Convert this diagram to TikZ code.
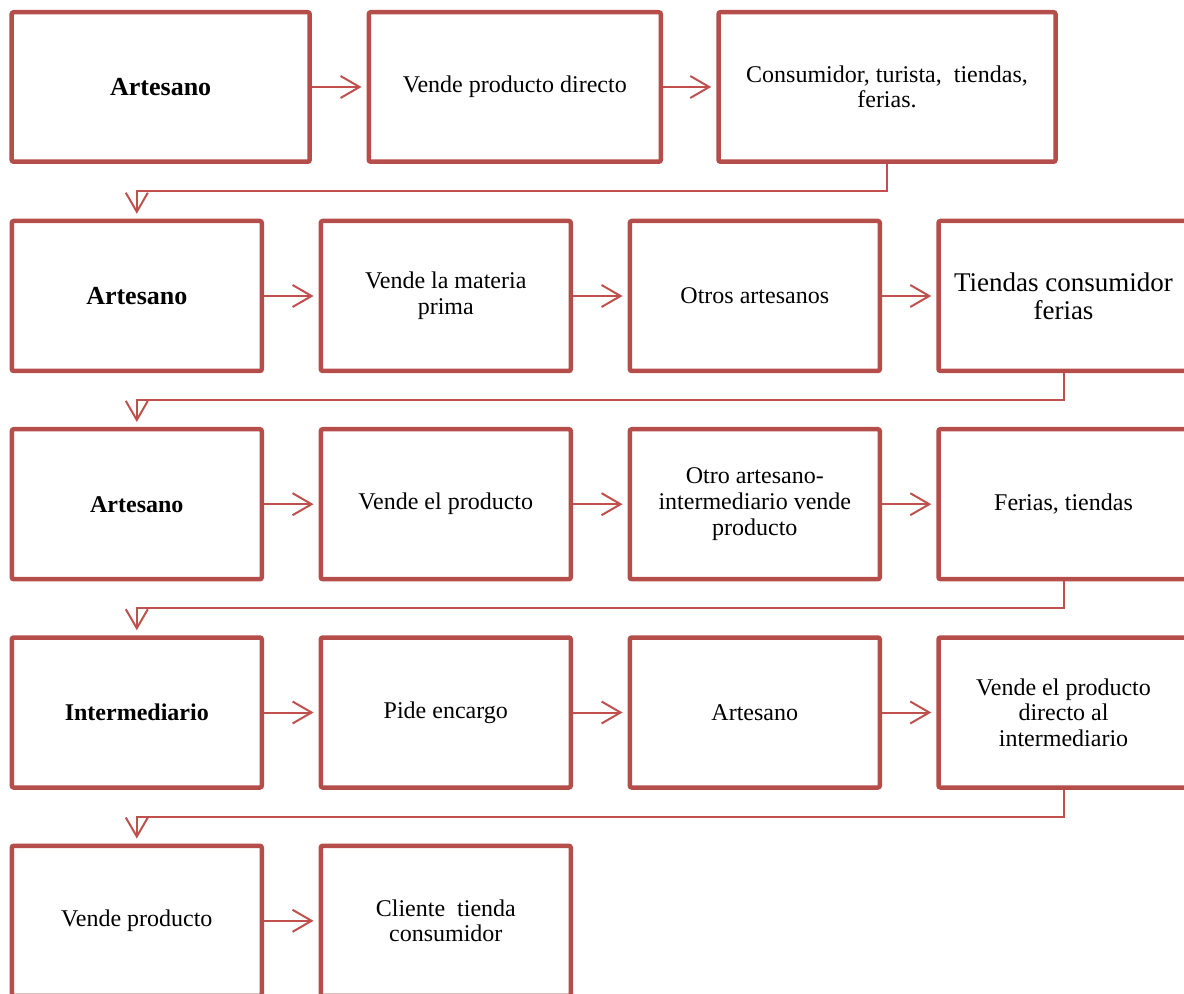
\documentclass[tikz,border=0pt]{standalone}
\usepackage{fontspec}
\setmainfont{Liberation Serif}
\usetikzlibrary{arrows.meta}
\definecolor{boxred}{RGB}{181,77,74}
\definecolor{linkred}{RGB}{192,80,77}
\tikzset{
  stepbox/.style={draw=boxred, line width=2.25pt, rounded corners=1pt, align=center,
    minimum width=125pt, minimum height=75pt, inner sep=4pt,
    font=\fontsize{12}{12.8}\selectfont},
  lead/.style={font=\fontsize{13}{14}\selectfont\bfseries},
  link/.style={draw=linkred, line width=1pt, -{Straight Barb[length=9.5pt,width=11pt]}, shorten >=2.5pt},
}
\begin{document}
\begin{tikzpicture}[x=0.5pt,y=-0.5pt]
\useasboundingbox (0,0) rectangle (1184,994);
\def\colA{136.8}
\def\colB{445.8}
\def\colC{754.8}
\def\colD{1063.5}
\def\rowB{296}
\def\rowC{504.2}
\def\rowD{712.5}
\def\rowE{920.8}

\node[stepbox, lead, minimum width=149pt, minimum height=74.75pt] (a1) at (160.7,87) {Artesano};
\node[stepbox, minimum width=146pt, minimum height=74.75pt] (a2) at (514.8,87) {Vende producto directo};
\node[stepbox, minimum width=168.5pt, minimum height=74.75pt] (a3) at (887,87) {Consumidor, turista,\ \ tiendas,\\ferias.};

\node[stepbox, lead] (b1) at (\colA,\rowB) {Artesano};
\node[stepbox] (b2) at (\colB,\rowB) {Vende la materia\\prima};
\node[stepbox] (b3) at (\colC,\rowB) {Otros artesanos};
\node[stepbox, font=\fontsize{13.5}{14}\selectfont] (b4) at (\colD,\rowB) {Tiendas consumidor\\ferias};

\node[stepbox, font=\fontsize{12}{13}\selectfont\bfseries] (c1) at (\colA,\rowC) {Artesano};
\node[stepbox] (c2) at (\colB,\rowC) {Vende el producto};
\node[stepbox] (c3) at (\colC,\rowC) {Otro artesano-\\intermediario vende\\producto};
\node[stepbox] (c4) at (\colD,\rowC) {Ferias, tiendas};

\node[stepbox, font=\fontsize{12}{13}\selectfont\bfseries] (d1) at (\colA,\rowD) {Intermediario};
\node[stepbox] (d2) at (\colB,\rowD) {Pide encargo};
\node[stepbox] (d3) at (\colC,\rowD) {Artesano};
\node[stepbox] (d4) at (\colD,\rowD) {Vende el producto\\directo al\\intermediario};

\node[stepbox] (e1) at (\colA,\rowE) {Vende producto};
\node[stepbox] (e2) at (\colB,\rowE) {Cliente\ \ tienda\\consumidor};

\foreach \p/\q in {a1/a2,a2/a3,b1/b2,b2/b3,b3/b4,c1/c2,c2/c3,c3/c4,d1/d2,d2/d3,d3/d4,e1/e2}
  \draw[link] (\p) -- (\q);

\coordinate (t1) at (\colA,191.5);
\coordinate (t2) at (\colA,400);
\coordinate (t3) at (\colA,608.3);
\coordinate (t4) at (\colA,816.6);
\draw[link] (a3.south) |- (t1) -- (b1.north);
\draw[link] (b4.south) |- (t2) -- (c1.north);
\draw[link] (c4.south) |- (t3) -- (d1.north);
\draw[link] (d4.south) |- (t4) -- (e1.north);
\end{tikzpicture}
\end{document}
